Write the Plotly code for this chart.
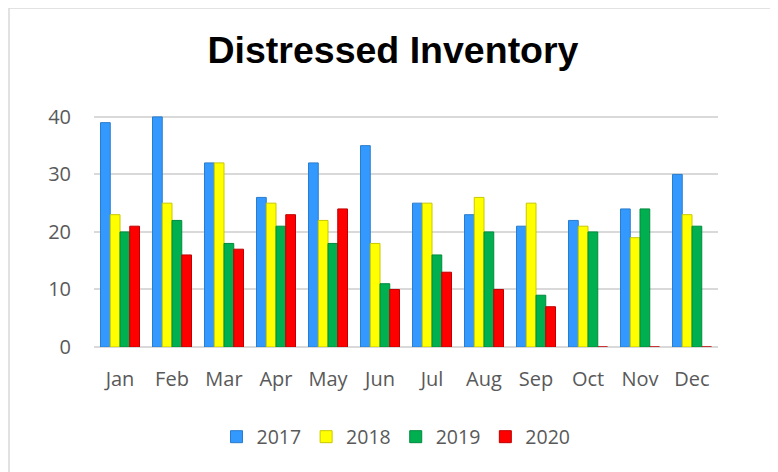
import plotly.graph_objects as go

months = ["Jan", "Feb", "Mar", "Apr", "May", "Jun", "Jul", "Aug", "Sep", "Oct", "Nov", "Dec"]
s2017 = [39, 40, 32, 26, 32, 35, 25, 23, 21, 22, 24, 30]
s2018 = [23, 25, 32, 25, 22, 18, 25, 26, 25, 21, 19, 23]
s2019 = [20, 22, 18, 21, 18, 11, 16, 20, 9, 20, 24, 21]
s2020 = [21, 16, 17, 23, 24, 10, 13, 10, 7, 0, 0, 0]

series = [("2017", s2017, "#3399FF", "#2A7CCC"),
          ("2018", s2018, "#FFFF00", "#C8C800"),
          ("2019", s2019, "#00B050", "#008A3E"),
          ("2020", s2020, "#FF0000", "#C00000")]

W, H = 778, 472
OFF = 8  # page body margin offset
L, R, T, B = 94 - OFF, 60 + OFF, 114 - OFF, 125 + OFF

fig = go.Figure()
for name, vals, col, edge in series:
    fig.add_trace(go.Bar(x=months, y=vals, name=name,
                         marker=dict(color=col, line=dict(color=edge, width=1))))

pw, ph = W - L - R, H - T - B
def px_x(p):
    return (p - OFF - L) / pw
def px_y(p):
    return (H - B - (p - OFF)) / ph

fig.update_layout(
    width=W, height=H,
    paper_bgcolor="white", plot_bgcolor="white",
    barmode="group", bargap=0.25, bargroupgap=0,
    margin=dict(l=L, r=R, t=T, b=B, autoexpand=False),
    title=dict(text="<b>Distressed Inventory</b>", x=(393 - OFF) / W, xanchor="center",
               y=1 - (50 - OFF) / H, yanchor="middle",
               font=dict(family="Liberation Sans, Arial", size=37.5, color="black")),
    font=dict(family="Open Sans, Lato, sans-serif", size=20, color="#595959"),
    legend=dict(orientation="h", x=(396 - OFF) / W, xanchor="center", xref="container",
                y=1 - (437 - OFF) / H, yanchor="middle", yref="container",
                font=dict(size=19.5, color="#595959"), itemwidth=30, tracegroupgap=0),
    xaxis=dict(showgrid=False, showline=False, ticks="", ticklabelstandoff=18),
    yaxis=dict(range=[0, 40.5], tickvals=[0, 10, 20, 30, 40], showgrid=True,
               gridcolor="#D9D9D9", gridwidth=2, zeroline=True, zerolinecolor="#D9D9D9",
               zerolinewidth=2, ticks="", ticklabelstandoff=22),
    shapes=[dict(type="rect", xref="paper", yref="paper",
                 x0=px_x(9), x1=px_x(772), y0=px_y(478), y1=px_y(8),
                 line=dict(color="#D9D9D9", width=1.5), layer="below")],
)

fig.write_html("out.html")
